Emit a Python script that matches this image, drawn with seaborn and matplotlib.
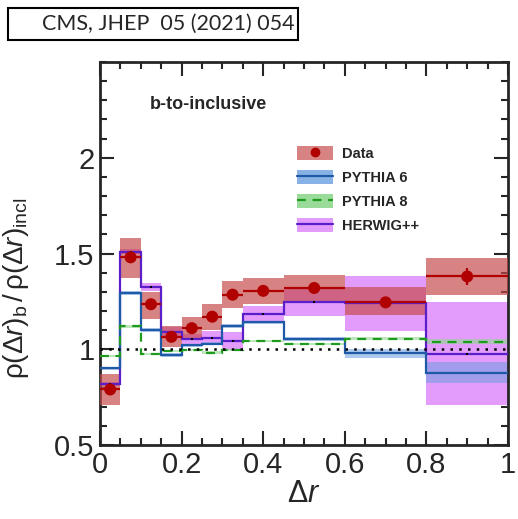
import numpy as np
import matplotlib
matplotlib.use("Agg")
import matplotlib.pyplot as plt
import seaborn as sns
import pandas as pd
from matplotlib.patches import Patch, Rectangle
from matplotlib.lines import Line2D
from matplotlib.ticker import MultipleLocator

# ---- data ----
edges = [0, 0.05, 0.1, 0.15, 0.2, 0.25, 0.3, 0.35, 0.45, 0.6, 0.8, 1.0]
data_val = [0.79, 1.48, 1.235, 1.065, 1.11, 1.17, 1.285, 1.305, 1.32, 1.245, 1.38]
data_sys_lo = [0.71, 1.37, 1.16, 1.01, 1.047, 1.10, 1.215, 1.238, 1.246, 1.177, 1.285]
data_sys_hi = [0.87, 1.58, 1.30, 1.12, 1.17, 1.234, 1.356, 1.373, 1.39, 1.325, 1.478]
data_stat = [0.01, 0.01, 0.01, 0.01, 0.01, 0.01, 0.01, 0.01, 0.01, 0.015, 0.045]
pythia6 = [0.90, 1.295, 1.10, 0.97, 1.02, 1.03, 1.12, 1.14, 1.053, 0.978, 0.877]
pythia6_unc = [0.008, 0.01, 0.01, 0.008, 0.008, 0.008, 0.01, 0.01, 0.012, 0.022, 0.055]
pythia8 = [0.965, 1.12, 0.976, 0.99, 0.995, 0.983, 0.995, 1.043, 1.026, 1.056, 1.04]
pythia8_unc = [0.006, 0.008, 0.006, 0.006, 0.006, 0.006, 0.006, 0.006, 0.006, 0.008, 0.012]
herwig = [0.82, 1.51, 1.325, 1.09, 1.052, 1.058, 1.043, 1.186, 1.245, 1.24, 0.977]
herwig_unc = [0.01, 0.012, 0.02, 0.025, 0.03, 0.035, 0.045, 0.038, 0.07, 0.145, 0.27]
legend_labels = ["Data", "PYTHIA 6", "PYTHIA 8", "HERWIG++"]

edges_a = np.array(edges)
centers = 0.5 * (edges_a[1:] + edges_a[:-1])
widths = np.diff(edges_a)
df = pd.DataFrame({"x": centers, "y": data_val})

sns.set_theme(style="ticks")
plt.rcParams["font.family"] = ["Liberation Sans", "DejaVu Sans"]
plt.rcParams["mathtext.fontset"] = "custom"
plt.rcParams["mathtext.rm"] = "Liberation Sans"
plt.rcParams["mathtext.it"] = "Liberation Sans:italic"

fig = plt.figure(figsize=(5.18, 5.19), dpi=100)
ax = fig.add_axes([100/518, 1-445/519, 408/518, 383/519])

c_data_band = "#c4484a"
c_data = "#b00000"
c_p6 = "#1f5aa6"
c_p6_band = "#6b9fe0"
c_p8 = "#1e9a1e"
c_p8_band = "#8fd88f"
c_hw = "#5a1fc8"
c_hw_band = "#e39cfb"

def band(vals, unc, color, alpha, z):
    v = np.array(vals); u = np.array(unc)
    ax.bar(centers, 2*u, bottom=v-u, width=widths, color=color, alpha=alpha,
           linewidth=0, zorder=z, align="center")

# MC bands
band(herwig, herwig_unc, c_hw_band, 1.0, 1)
band(pythia6, pythia6_unc, c_p6_band, 0.55, 2)
band(pythia8, pythia8_unc, c_p8_band, 0.6, 2)
# data systematic band
ax.bar(centers, np.array(data_sys_hi)-np.array(data_sys_lo), bottom=data_sys_lo,
       width=widths, color=c_data_band, alpha=0.68, linewidth=0, zorder=3)

# MC lines
ax.stairs(herwig, edges, baseline=None, color=c_hw, lw=1.6, zorder=4)
ax.stairs(pythia6, edges, baseline=None, color=c_p6, lw=1.6, zorder=4)
ax.stairs(pythia8, edges, baseline=None, color=c_p8, lw=1.6, ls=(0, (4, 3)), zorder=4)
ax.scatter(centers, herwig, s=4, marker="s", color="black", zorder=5, linewidths=0)

# reference line
ax.axhline(1.0, color="black", ls=(0, (1, 2.5)), lw=1.8, zorder=5)

# data
ax.errorbar(centers, data_val, xerr=widths/2, yerr=data_stat, fmt="none",
            ecolor=c_data, elinewidth=1.6, capsize=0, zorder=6)
sns.scatterplot(data=df, x="x", y="y", ax=ax, color=c_data, s=75,
                edgecolor="none", zorder=7, legend=False)

ax.set_xlim(0, 1)
ax.set_ylim(0.5, 2.5)
ax.xaxis.set_minor_locator(MultipleLocator(0.05))
ax.yaxis.set_minor_locator(MultipleLocator(0.1))
ax.set_xticks([0, 0.2, 0.4, 0.6, 0.8, 1.0])
ax.set_xticklabels(["0", "0.2", "0.4", "0.6", "0.8", "1"])
ax.set_yticks([0.5, 1, 1.5, 2])
ax.set_yticklabels(["0.5", "1", "1.5", "2"])
ax.tick_params(which="both", direction="in", top=True, right=True, width=1.5,
               labelsize=21, pad=4)
ax.tick_params(which="major", length=10)
ax.tick_params(which="minor", length=5)
for s in ax.spines.values():
    s.set_linewidth(2)

ax.set_xlabel(r"$\mathrm{\Delta}\mathit{r}$", fontsize=22, labelpad=0)
ax.set_ylabel(r"$\mathrm{\rho(\Delta}\mathit{r}\mathrm{)_{b}\,/\,\rho(\Delta}\mathit{r}\mathrm{)_{incl}}$",
              fontsize=20)
ax.yaxis.set_label_coords(-0.17, 0.41)

ax.text(0.123, 0.888, "b-to-inclusive", transform=ax.transAxes, fontsize=13,
        fontweight="bold", va="center", ha="left")

handles = [
    (Patch(color=c_data_band, alpha=0.68, lw=0), Line2D([], [], marker="o", color=c_data, ls="none", ms=6)),
    (Patch(color=c_p6_band, alpha=0.8, lw=0), Line2D([], [], color=c_p6, lw=1.6)),
    (Patch(color=c_p8_band, alpha=0.9, lw=0), Line2D([], [], color=c_p8, lw=1.6, ls=(0, (4, 3)))),
    (Patch(color=c_hw_band, lw=0), Line2D([], [], color=c_hw, lw=1.6)),
]
leg = ax.legend(handles, legend_labels, loc="upper left", bbox_to_anchor=(0.45, 0.815),
                frameon=False, prop={"weight": "bold", "size": 10.5},
                handlelength=2.5, handleheight=1.1, labelspacing=0.62, handletextpad=0.6)

fig.add_artist(Rectangle((8/518, 1-40/519), 290/518, 32/519, transform=fig.transFigure,
                         fc="white", ec="black", lw=1.5))
fig.text(42/518, 1-24/519, "CMS, JHEP  05 (2021) 054", fontsize=15.5, family="Lato",
         va="center", ha="left")

fig.savefig("out.png", dpi=100)
